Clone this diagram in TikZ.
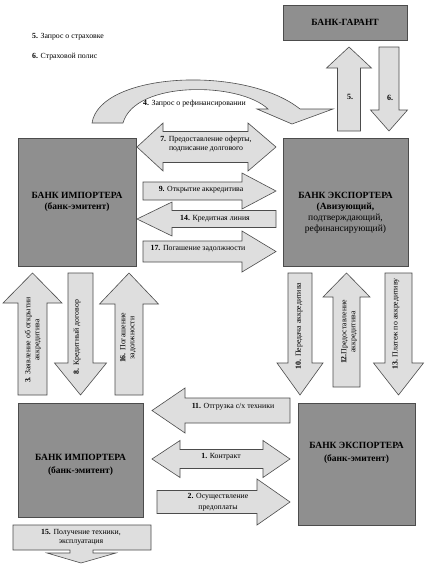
\documentclass[tikz,border=0pt]{standalone}
\usepackage{fontspec}
\setmainfont{Liberation Serif}
\usetikzlibrary{calc}
\definecolor{bankgray}{gray}{0.56}
\definecolor{arrowgray}{gray}{0.87}
\definecolor{linegray}{gray}{0.3}
\tikzset{
	bank/.style={fill=bankgray, draw=linegray, line width=0.9pt},
	banktext/.style={align=center, inner sep=0pt, font=\fontsize{9.5}{11}\selectfont\bfseries},
	blockarrow/.style={fill=arrowgray, draw=linegray, line width=0.6pt},
	arrowtext/.style={align=center, inner sep=0pt, font=\fontsize{7.8}{9}\selectfont}
}
% block arrows: (start:head base:tip:centre line:shaft half width:head half width)
\def\blockh(#1:#2:#3:#4:#5:#6){\draw[blockarrow] (#1,#4-#5) -- (#2,#4-#5) -- (#2,#4-#6) -- (#3,#4) -- (#2,#4+#6) -- (#2,#4+#5) -- (#1,#4+#5) -- cycle;}
\def\blockv(#1:#2:#3:#4:#5:#6){\draw[blockarrow] (#4-#5,#1) -- (#4-#5,#2) -- (#4-#6,#2) -- (#4,#3) -- (#4+#6,#2) -- (#4+#5,#2) -- (#4+#5,#1) -- cycle;}
% double arrow: (left tip:left base:right base:right tip:centre line:shaft half:head half)
\def\blockd(#1:#2:#3:#4:#5:#6:#7){\draw[blockarrow] (#1,#5) -- (#2,#5-#7) -- (#2,#5-#6) -- (#3,#5-#6) -- (#3,#5-#7) -- (#4,#5) -- (#3,#5+#7) -- (#3,#5+#6) -- (#2,#5+#6) -- (#2,#5+#7) -- cycle;}

\begin{document}
\begin{tikzpicture}[x=1pt, y=-1pt]
			%%%%% START %%%%%
			
			\fill[white] (0,0) rectangle (424,573);
			\useasboundingbox (0,0) rectangle (424,573);
			
			\node[arrowtext, anchor=west] (note5) at (32,37) {\textbf{5.} Запрос о страховке};
			\node[arrowtext, anchor=west] (note6) at (32,57) {\textbf{6.} Страховой полис};
			
			\node[bank, banktext, minimum width=124pt, minimum height=35pt] (garant) at (345,22.5) {БАНК-ГАРАНТ};
			
			\blockv(131:68:47:349:11.5:22.5)
			\node[arrowtext, font=\fontsize{8}{9}\selectfont\bfseries] (msg5) at (350,97) {5.};
			\blockv(47:110:131:389:10:18.5)
			\node[arrowtext, font=\fontsize{8}{9}\selectfont\bfseries] (msg6) at (390,98) {6.};
			
			\draw[blockarrow] (92,123) .. controls (100,72) and (245,65) .. (300,109) -- (333,109) -- (292,124) -- (257,109) -- (268,109) .. controls (240,82) and (135,80) .. (123,123) -- cycle;
			\node[arrowtext, anchor=west] (msg4) at (143,104) {\textbf{4.} Запрос о рефинансировании};
			
			\node[bank, minimum width=118pt, minimum height=128pt] (impTop) at (77,202) {};
			\node[banktext] (impTopTxt) at (77,201.5) {БАНК ИМПОРТЕРА\\(банк-эмитент)};
			\node[bank, minimum width=125pt, minimum height=128pt] (expTop) at (345.5,202) {};
			\node[banktext] (expTopTxt) at (345.5,213) {БАНК ЭКСПОРТЕРА\\(Авизующий,\\{\mdseries подтверждающий,}\\{\mdseries рефинансирующий)}};
			
			\blockd(137:163:248:276:147:15.5:24)
			\node[arrowtext] (msg7) at (206,144) {\textbf{7.} Предоставление оферты,\\подписание долгового};
			\blockh(143:242:276:191:9:18)
			\node[arrowtext] (msg9) at (201,190) {\textbf{9.} Открытие аккредитива};
			\blockh(276:172:137:219:8.5:17)
			\node[arrowtext] (msg14) at (215,218.5) {\textbf{14.} Кредитная линия};
			\blockh(143:242:276:251.5:10.5:20.5)
			\node[arrowtext] (msg17) at (198,249) {\textbf{17.} Погашение задолжности};
			
			\blockv(395:303:273:32.5:14.5:29.5)
			\node[arrowtext, rotate=90] (msg3) at (33,340) {\textbf{3.} Заявление об открытии\\аккредитива};
			\blockv(273:363:395:80.5:12.5:26)
			\node[arrowtext, rotate=90] (msg8) at (77,337) {\textbf{8.} Кредитный договор};
			\blockv(395:304:273:129:14:29.5)
			\node[arrowtext, rotate=90] (msg16) at (128,338) {\textbf{16.} Погашение\\задолжности};
			
			\blockv(273:363:395:300:12:23)
			\node[arrowtext, rotate=90] (msg10) at (299,326) {\textbf{10.} Передача аккредитива};
			\blockv(387:297:273:346.5:13.5:23.5)
			\node[arrowtext, rotate=90] (msg12) at (349,332) {\textbf{12.}Предоставление\\аккредитива};
			\blockv(273:363:395:398.5:13.5:25)
			\node[arrowtext, rotate=90] (msg13) at (396,324) {\textbf{13.} Платеж по аккредитиву};
			
			\node[bank, minimum width=125pt, minimum height=114pt] (impBot) at (80.5,460) {};
			\node[banktext] (impBotTxt) at (80.5,465) {БАНК ИМПОРТЕРА\\[2pt](банк-эмитент)};
			\node[bank, minimum width=117pt, minimum height=122pt] (expBot) at (356.5,464) {};
			\node[banktext] (expBotTxt) at (356.5,452.5) {БАНК ЭКСПОРТЕРА\\[2pt](банк-эмитент)};
			
			\blockh(290:185:152:410.5:12.5:22.5)
			\node[arrowtext] (msg11) at (233,407) {\textbf{11.} Отгрузка с/х техники};
			\blockd(152:180:263:290:459:9.5:18.5)
			\node[arrowtext] (msg1) at (221,457) {\textbf{1.} Контракт};
			\blockh(157:257:290:502:11.5:23)
			\node[arrowtext, font=\fontsize{7.8}{11}\selectfont] (msg2) at (218,502.5) {\textbf{2.} Осуществление\\предоплаты};
			
			\draw[blockarrow] (13,525) -- (151,525) -- (151,550) -- (93,550) -- (93,553) -- (116,553) -- (81,563) -- (47,553) -- (70,553) -- (70,550) -- (13,550) -- cycle;
			\node[arrowtext] (msg15) at (81,537.5) {\textbf{15.} Получение техники,\\эксплуатация};
			
			%%%%% END %%%%%
\end{tikzpicture}
\end{document}
